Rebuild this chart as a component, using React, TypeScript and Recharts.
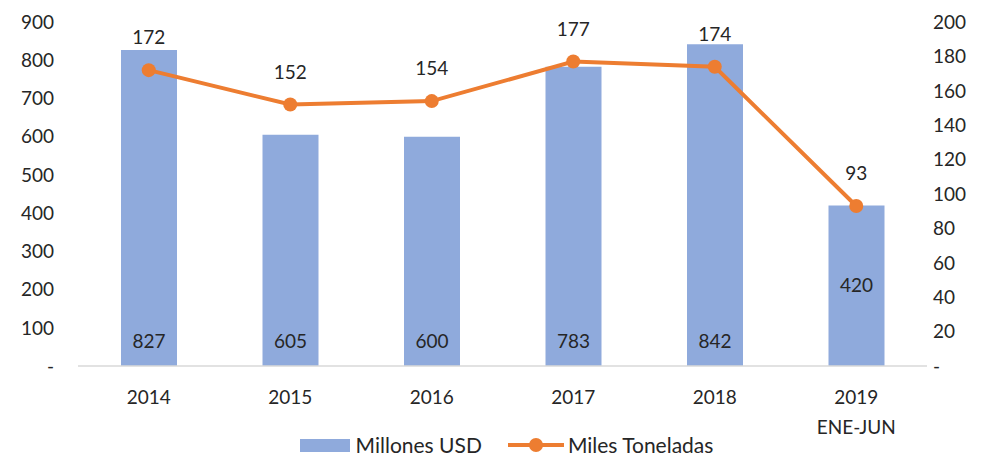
import React from 'react';
import {
    ComposedChart,
    Bar,
    Line,
    XAxis,
    YAxis,
    Legend,
    LabelList,
} from 'recharts';

const years = ['2014', '2015', '2016', '2017', '2018', '2019\nENE-JUN'];
const millonesUsd = [827, 605, 600, 783, 842, 420];
const milesToneladas = [172, 152, 154, 177, 174, 93];
const leftTicks = [0, 100, 200, 300, 400, 500, 600, 700, 800, 900];
const rightTicks = [0, 20, 40, 60, 80, 100, 120, 140, 160, 180, 200];

const data = years.map((year, i) => ({
    year,
    usd: millonesUsd[i],
    ton: milesToneladas[i],
}));

const FONT = 'Lato, "Open Sans", sans-serif';
const BAR = '#8FAADC';
const LINE = '#ED7D31';
const TEXT = '#262626';

const dashZero = (v: number) => (v === 0 ? '-' : String(v));

function YearTick({ x, y, payload }: any) {
    const lines = String(payload.value).split('\n');
    return (
        <g transform={`translate(${x},${y})`}>
            {lines.map((line, i) => (
                <text
                    key={i}
                    x={0}
                    y={30 + i * 30}
                    textAnchor="middle"
                    fill={TEXT}
                    fontSize={19}
                    fontFamily={FONT}
                >
                    {line}
                </text>
            ))}
        </g>
    );
}

// value sits near the bar foot; the last (short) bar carries it a bit higher
function UsdLabel({ x, y, width, height, value, index }: any) {
    const lift = index === millonesUsd.length - 1 ? 74 : 18;
    return (
        <text
            x={x + width / 2}
            y={y + height - lift}
            textAnchor="middle"
            fill={TEXT}
            fontSize={19}
            fontFamily={FONT}
        >
            {value}
        </text>
    );
}

function ChartLegend() {
    return (
        <div
            style={{
                display: 'flex',
                justifyContent: 'center',
                alignItems: 'center',
                gap: 26,
                fontFamily: FONT,
                fontSize: 21,
                lineHeight: '24px',
                color: TEXT,
                paddingLeft: 20,
            }}
        >
            <div style={{ display: 'flex', alignItems: 'center', gap: 6 }}>
                <div style={{ width: 50, height: 13, background: BAR }} />
                <span>Millones USD</span>
            </div>
            <div style={{ display: 'flex', alignItems: 'center', gap: 4 }}>
                <svg width={56} height={16}>
                    <line x1={0} y1={8} x2={56} y2={8} stroke={LINE} strokeWidth={4} />
                    <circle cx={28} cy={8} r={7} fill={LINE} />
                </svg>
                <span>Miles Toneladas</span>
            </div>
        </div>
    );
}

export default function App() {
    return (
        <div style={{ position: 'absolute', left: 0, top: 0, background: '#fff' }}>
            <ComposedChart
                width={993}
                height={459}
                data={data}
                margin={{ top: 22, right: 0, left: 0, bottom: 0 }}
                barCategoryGap="30%"
            >
                <XAxis
                    dataKey="year"
                    axisLine={{ stroke: '#D9D9D9', strokeWidth: 1.5 }}
                    tickLine={false}
                    tick={<YearTick />}
                    height={67}
                    interval={0}
                />
                <YAxis
                    yAxisId="left"
                    domain={[0, 900]}
                    ticks={leftTicks}
                    width={78}
                    axisLine={false}
                    tickLine={false}
                    tickFormatter={dashZero}
                    tick={{ fill: TEXT, fontSize: 19, fontFamily: FONT, dx: -16 }}
                />
                <YAxis
                    yAxisId="right"
                    orientation="right"
                    domain={[0, 200]}
                    ticks={rightTicks}
                    width={66}
                    axisLine={false}
                    tickLine={false}
                    tickFormatter={dashZero}
                    tick={{ fill: TEXT, fontSize: 19, fontFamily: FONT, dx: -2 }}
                />
                <Legend verticalAlign="bottom" height={26} content={<ChartLegend />} />
                <Bar
                    yAxisId="left"
                    dataKey="usd"
                    name="Millones USD"
                    fill={BAR}
                    barSize={56}
                    isAnimationActive={false}
                >
                    <LabelList dataKey="usd" content={<UsdLabel />} />
                </Bar>
                <Line
                    yAxisId="right"
                    dataKey="ton"
                    name="Miles Toneladas"
                    stroke={LINE}
                    strokeWidth={4}
                    dot={{ r: 7, fill: LINE, stroke: LINE, strokeWidth: 0 }}
                    activeDot={false}
                    isAnimationActive={false}
                >
                    <LabelList
                        dataKey="ton"
                        position="top"
                        offset={26}
                        fill={TEXT}
                        fontSize={19}
                        fontFamily={FONT}
                    />
                </Line>
            </ComposedChart>
        </div>
    );
}
